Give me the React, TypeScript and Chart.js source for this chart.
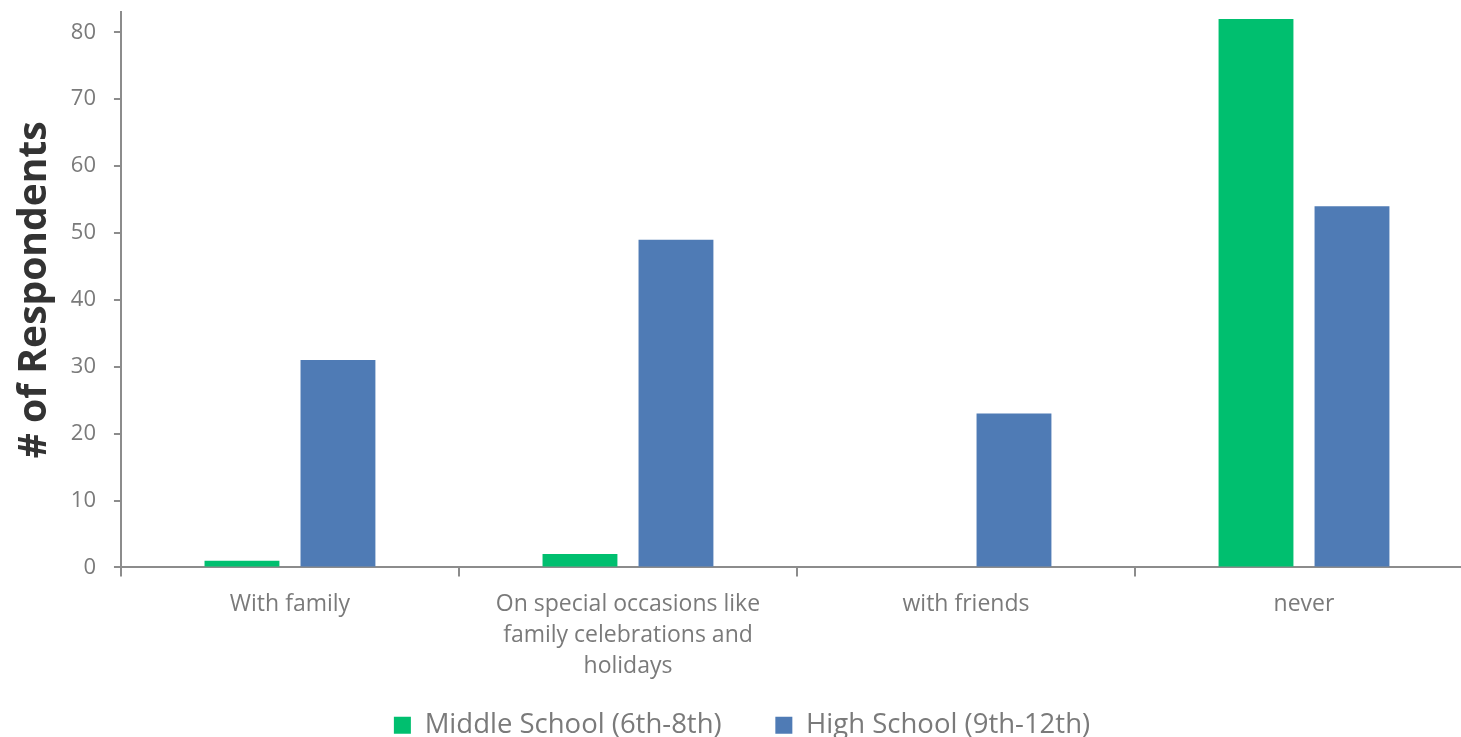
import React, { useEffect, useRef } from "react";
import { Chart, registerables } from "chart.js";

Chart.register(...registerables);

const categories: (string | string[])[] = [
  "With family",
  ["On special occasions like", "family celebrations and", "holidays"],
  "with friends",
  "never",
];
const middleSchool = [1, 2, 0, 82];
const highSchool = [31, 49, 23, 54];
const seriesNames = ["Middle School (6th-8th)     ", "High School (9th-12th)"];
const yTicks = [0, 10, 20, 30, 40, 50, 60, 70, 80];

const GREEN = "rgb(0,191,111)";
const BLUE = "rgb(79,123,181)";
const AXIS = "#8c8c8c";
const TEXT = "#7a7a7a";
const FONT = "'Open Sans', sans-serif";

export default function App() {
  const ref = useRef<HTMLCanvasElement>(null);
  useEffect(() => {
    if (!ref.current) return;
    const chart = new Chart(ref.current, {
      type: "bar",
      data: {
        labels: categories,
        datasets: [
          { label: seriesNames[0], data: middleSchool, backgroundColor: GREEN },
          { label: seriesNames[1], data: highSchool, backgroundColor: BLUE },
        ],
      },
      options: {
        responsive: false,
        animation: false,
        layout: { padding: { top: 0, left: 11, right: 11, bottom: -7 } },
        datasets: { bar: { categoryPercentage: 0.568, barPercentage: 0.78 } },
        plugins: {
          legend: {
            position: "bottom",
            labels: {
              boxWidth: 17,
              boxHeight: 17,
              padding: 18,
              color: TEXT,
              font: { family: FONT, size: 27.5 },
            },
          },
          tooltip: { enabled: false },
        },
        scales: {
          x: {
            grid: {
              offset: true,
              drawOnChartArea: false,
              tickLength: 9,
              color: AXIS,
              lineWidth: 2,
            },
            border: { color: AXIS, width: 2 },
            ticks: {
              color: TEXT,
              font: { family: FONT, size: 23, lineHeight: 1.348 },
              maxRotation: 0,
              padding: 12,
            },
          },
          y: {
            min: 0,
            max: 83,
            afterBuildTicks: (scale: any) => {
              scale.ticks = yTicks.map((v) => ({ value: v }));
            },
            grid: {
              drawOnChartArea: false,
              tickLength: 7,
              color: AXIS,
              lineWidth: 2,
            },
            border: { color: AXIS, width: 2 },
            ticks: {
              color: TEXT,
              font: { family: FONT, size: 22 },
              padding: 18,
            },
            title: {
              display: true,
              text: "# of Respondents",
              color: "#333333",
              font: { family: FONT, size: 39, weight: "bold" },
              padding: { top: 0, bottom: -5 },
            },
          },
        },
      },
    });
    return () => chart.destroy();
  }, []);
  return (
    <div
      style={{
        position: "fixed",
        left: 0,
        top: 0,
        width: 1461,
        height: 737,
        overflow: "hidden",
        background: "#fff",
      }}
    >
      <canvas
        ref={ref}
        width={1484}
        height={761}
        style={{ display: "block", position: "absolute", left: 0, top: -19 }}
      />
    </div>
  );
}
